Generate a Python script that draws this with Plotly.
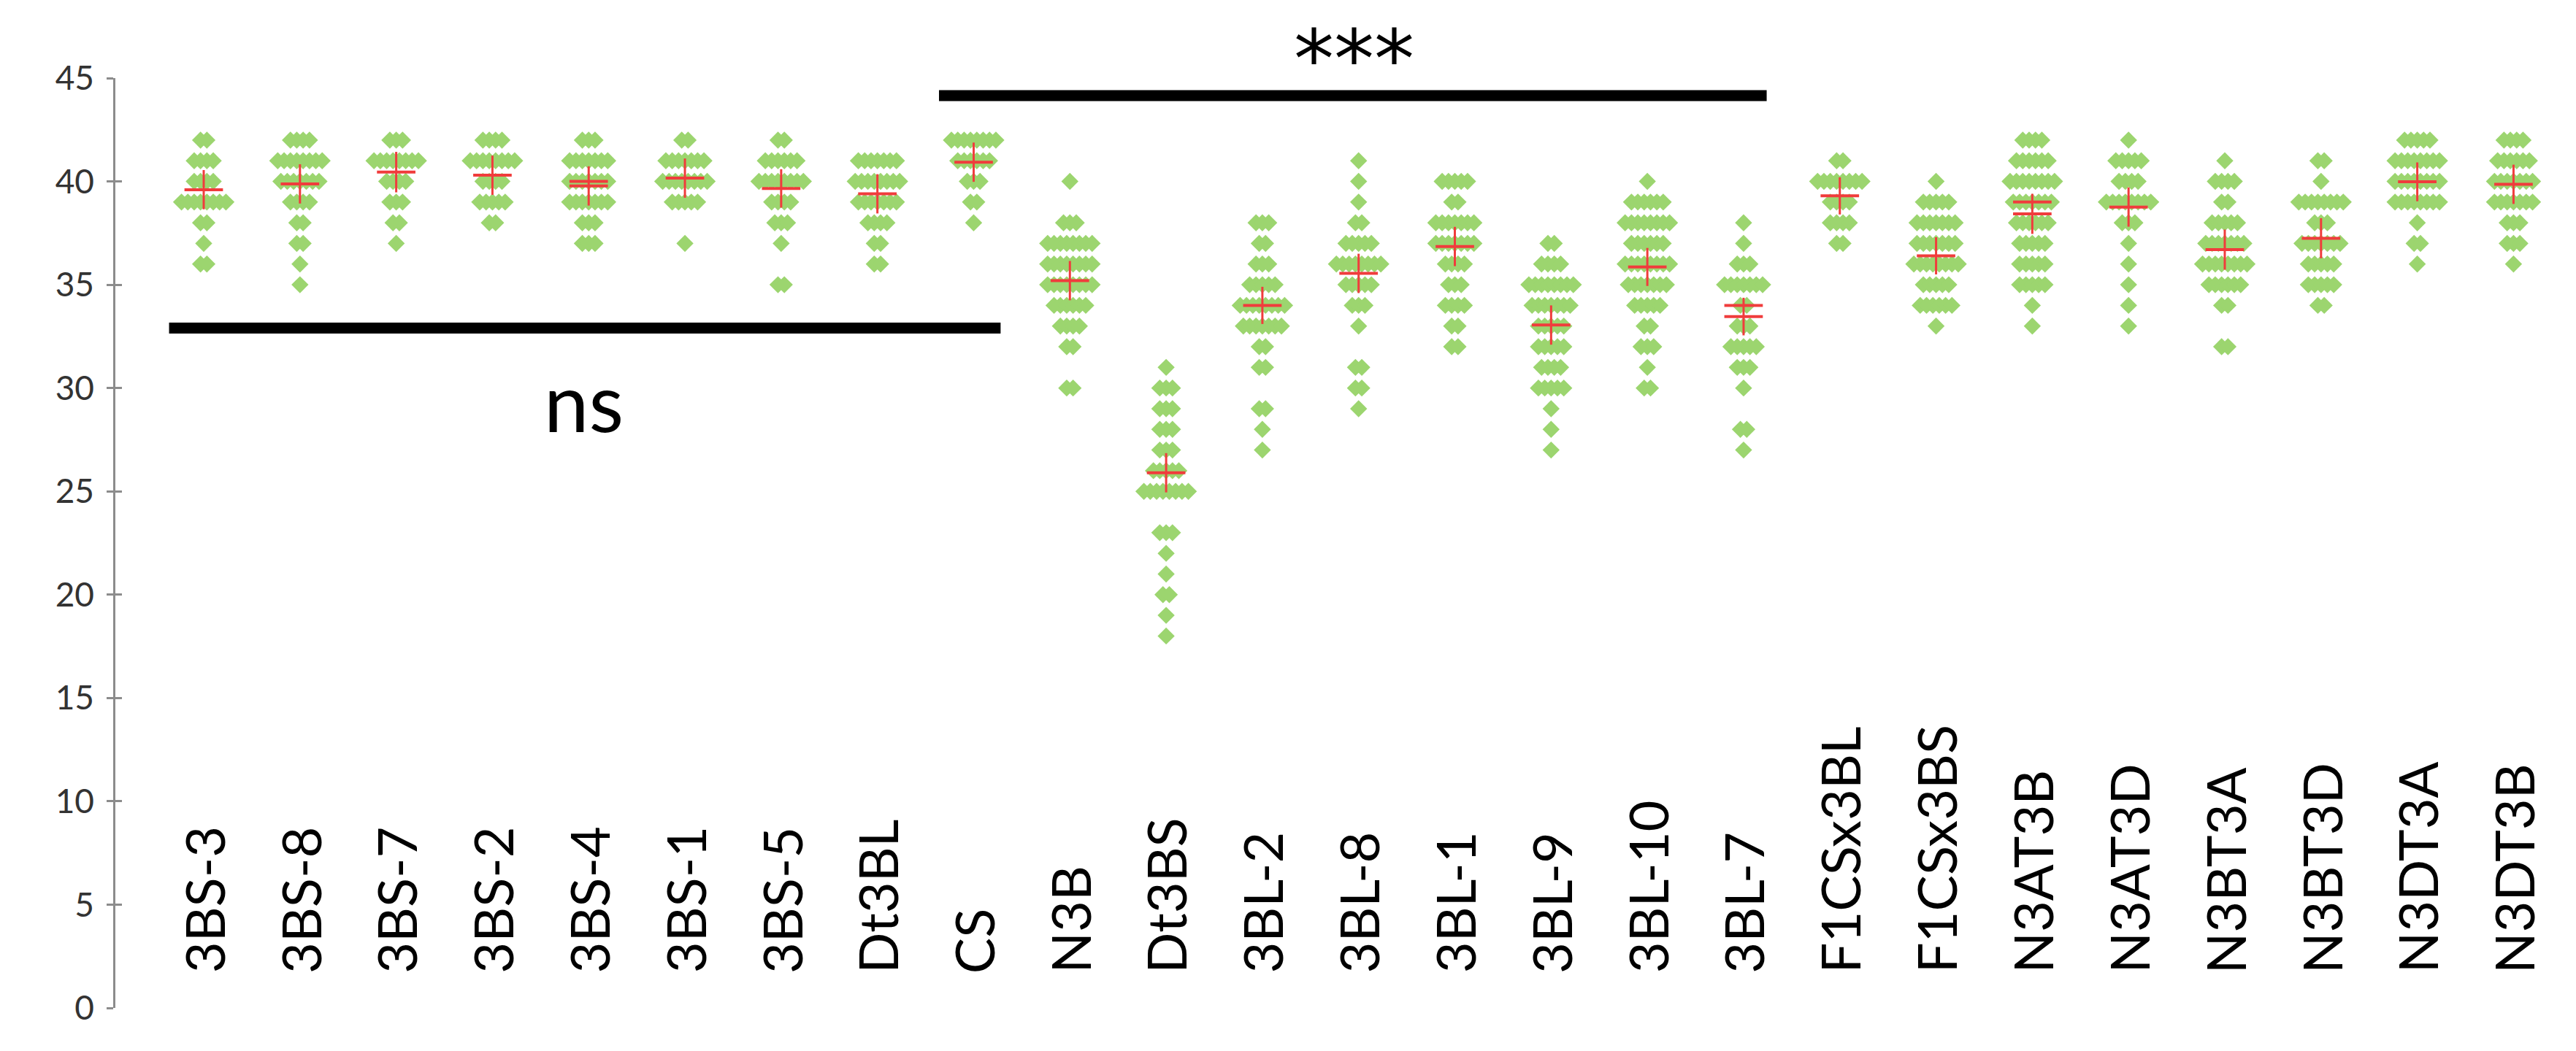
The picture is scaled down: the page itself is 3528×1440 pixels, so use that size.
import plotly.graph_objects as go

# ---- data ----
categories = [
    "3BS-3", "3BS-8", "3BS-7", "3BS-2", "3BS-4", "3BS-1", "3BS-5", "Dt3BL",
    "CS", "N3B", "Dt3BS", "3BL-2", "3BL-8", "3BL-1", "3BL-9", "3BL-10", "3BL-7",
    "F1CSx3BL", "F1CSx3BS", "N3AT3B", "N3AT3D", "N3BT3A", "N3BT3D", "N3DT3A", "N3DT3B",
]

# highest observed value per category; counts below go down one unit per step
top_values = [42, 42, 42, 42, 42, 42, 42, 41, 42, 40, 31, 38, 41, 40, 37, 40, 38,
              41, 40, 42, 42, 41, 41, 42, 42]

level_counts = [
    [2, 4, 4, 8, 2, 1, 2],                         # 3BS-3
    [4, 8, 7, 4, 2, 2, 1, 1],                      # 3BS-8
    [3, 8, 4, 3, 2, 1],                            # 3BS-7
    [4, 8, 4, 5, 2],                               # 3BS-2
    [3, 7, 7, 7, 3, 3],                            # 3BS-4
    [2, 7, 8, 5, 0, 1],                            # 3BS-1
    [2, 6, 8, 4, 3, 1, 0, 2],                      # 3BS-5
    [7, 8, 7, 4, 2, 2],                            # Dt3BL
    [8, 6, 3, 2, 1],                               # CS
    [1, 0, 3, 8, 8, 8, 6, 4, 2, 0, 2],             # N3B
    [1, 3, 3, 3, 3, 5, 8, 0, 3, 1, 1, 2, 1, 1],    # Dt3BS
    [3, 2, 3, 5, 8, 7, 2, 2, 0, 2, 1, 1],          # 3BL-2
    [1, 1, 1, 2, 5, 8, 5, 3, 1, 0, 2, 2, 1],       # 3BL-8
    [5, 2, 7, 7, 4, 3, 4, 2, 2],                   # 3BL-1
    [2, 4, 8, 7, 5, 5, 4, 5, 1, 1, 1],             # 3BL-9
    [1, 6, 8, 6, 8, 7, 5, 2, 3, 1, 2],             # 3BL-10
    [1, 1, 3, 7, 2, 3, 5, 3, 1, 0, 2, 1],          # 3BL-7
    [2, 8, 4, 4, 2],                               # F1CSx3BL
    [1, 5, 7, 7, 8, 5, 6, 1],                      # F1CSx3BS
    [4, 6, 8, 7, 6, 5, 5, 5, 1, 1],                # N3AT3B
    [1, 5, 4, 8, 3, 1, 1, 1, 1, 1],                # N3AT3D
    [1, 4, 2, 5, 7, 8, 6, 2, 0, 2],                # N3BT3A
    [2, 1, 8, 3, 7, 5, 5, 2],                      # N3BT3D
    [5, 8, 8, 8, 1, 2, 1],                         # N3DT3A
    [4, 6, 7, 7, 3, 3, 1],                         # N3DT3B
]

means = [39.6, 39.88, 40.45, 40.3, 39.78, 40.16, 39.66, 39.4, 40.93, 35.2, 25.9,
         34.0, 35.55, 36.85, 33.05, 35.86, 33.46, 39.3, 36.4, 38.43, 38.76, 36.7,
         37.25, 39.98, 39.86]
errors = [0.95, 0.95, 0.98, 0.95, 0.95, 0.95, 0.93, 0.95, 0.95, 0.95, 0.95,
          0.9, 0.95, 0.95, 0.95, 0.92, 0.91, 0.9, 0.9, 0.97, 0.95, 0.97,
          0.97, 0.94, 0.95]
# extra short red dashes visible on a few groups
second_marks = [None, None, None, None, 40.0, None, None, None, None, None, None,
                None, None, None, None, None, 34.0, None, None, 39.0, None, None,
                None, None, None]

y_ticks = [0, 5, 10, 15, 20, 25, 30, 35, 40, 45]

GREEN = "#9cd56f"
RED = "#f03c3c"
AXIS = "#8c8c8c"
STEP = 0.066  # horizontal spread between stacked points (category units)

# spread the points of each value level side by side
xs, ys = [], []
for i, (top, counts) in enumerate(zip(top_values, level_counts)):
    for k, n in enumerate(counts):
        for j in range(n):
            xs.append(i + (j - (n - 1) / 2) * STEP)
            ys.append(top - k)

idx = list(range(len(categories)))

fig = go.Figure()
fig.add_trace(go.Scatter(
    x=xs, y=ys, mode="markers",
    marker=dict(symbol="diamond", size=18, color=GREEN, line=dict(width=0)),
    hoverinfo="skip",
))
fig.add_trace(go.Scatter(
    x=idx, y=means, mode="markers",
    marker=dict(size=1, color="rgba(0,0,0,0)"),
    error_y=dict(type="data", array=errors, width=0, thickness=3, color=RED),
    error_x=dict(type="data", array=[0.2] * len(idx), width=0, thickness=4, color=RED),
))
sx = [i for i, m in enumerate(second_marks) if m is not None]
sy = [m for m in second_marks if m is not None]
fig.add_trace(go.Scatter(
    x=sx, y=sy, mode="markers",
    marker=dict(size=1, color="rgba(0,0,0,0)"),
    error_x=dict(type="data", array=[0.2] * len(sx), width=0, thickness=4, color=RED),
))
# dummy trace so the inward-tick overlay axis gets drawn
fig.add_trace(go.Scatter(x=[None], y=[None], yaxis="y2"))

# category labels, written vertically inside the plot
for i, name in enumerate(categories):
    fig.add_annotation(
        x=i, y=1.6, xref="x", yref="y", text=name, textangle=-90,
        xanchor="center", yanchor="bottom", showarrow=False,
        font=dict(family="Lato", size=74, color="black"),
    )

# significance bars
ns_span, ns_level = (-0.36, 8.28), 32.9
star_span, star_level = (7.64, 16.24), 44.15
for (x0, x1), lvl in [(ns_span, ns_level), (star_span, star_level)]:
    fig.add_shape(type="line", xref="x", yref="y", x0=x0, x1=x1, y0=lvl, y1=lvl,
                  line=dict(color="black", width=15))
fig.add_annotation(x=3.95, y=29.4, xref="x", yref="y", text="ns", showarrow=False,
                   font=dict(family="Lato", size=110, color="black"))
# above the top of the y range, so placed in paper units
fig.add_annotation(x=11.95, y=45.9 / 45, xref="x", yref="paper", text="***",
                   showarrow=False, yanchor="middle",
                   font=dict(family="DejaVu Sans", size=110, color="black"))

fig.update_layout(
    width=3528, height=1440,
    margin=dict(l=150, r=0, t=99, b=67, autoexpand=False),
    paper_bgcolor="white", plot_bgcolor="white",
    showlegend=False,
    xaxis=dict(range=[-0.918, 24.71], visible=False),
    yaxis=dict(
        range=[0, 45], tickvals=y_ticks, showgrid=False, zeroline=False,
        showline=True, linecolor=AXIS, linewidth=2.5,
        ticks="outside", ticklen=9, tickwidth=2.5, tickcolor=AXIS,
        ticklabelstandoff=8,
        tickfont=dict(family="Lato", size=46, color="#333333"),
    ),
    yaxis2=dict(
        range=[0, 45], tickvals=y_ticks, overlaying="y", anchor="x", side="left",
        showgrid=False, zeroline=False, showline=False, showticklabels=False,
        ticks="inside", ticklen=9, tickwidth=2.5, tickcolor=AXIS,
    ),
)

fig.write_html("out.html")
